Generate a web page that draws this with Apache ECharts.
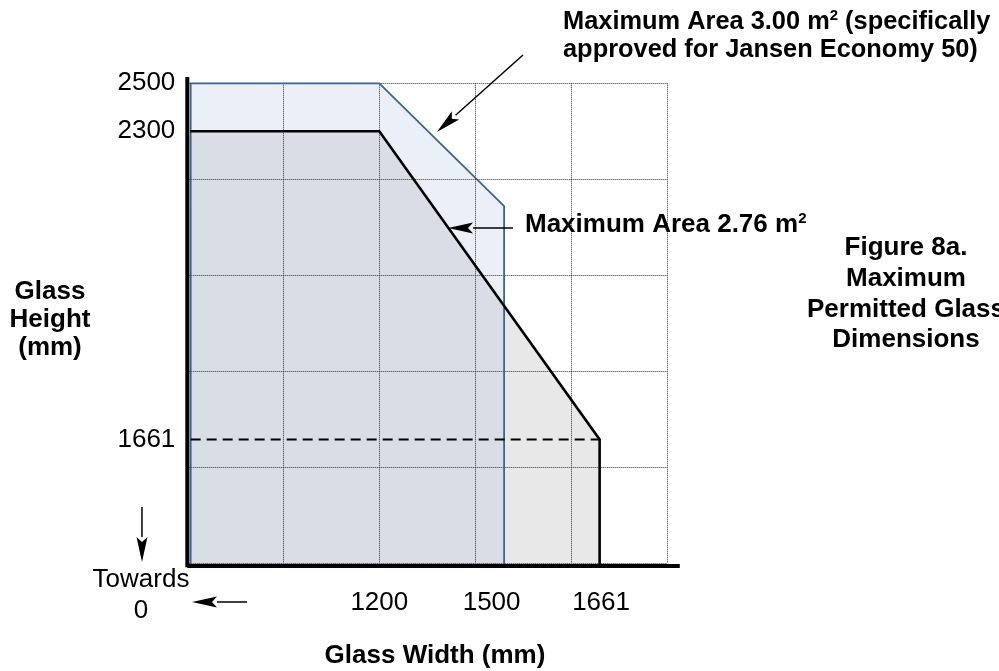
<!DOCTYPE html>
<html>
<head>
<meta charset="utf-8">
<script src="https://cdn.jsdelivr.net/npm/echarts@6/dist/echarts.min.js"></script>
<style>
html,body{margin:0;padding:0;background:#fff;}
#chart{width:999px;height:671px;}
</style>
</head>
<body>
<div id="chart"></div>
<script>
// ---------- data (schematic grid units: one grid cell = 1 unit) ----------
const heightTickLabels = ['2500', '2300', '1661'];
const heightTickPos    = [5.0, 4.5, 1.29];
const widthTickLabels  = ['1200', '1500', '1661'];
const widthTickPos     = [2.0, 3.17, 4.31];

// Max area 2.76 m2 envelope (black outline, grey fill)
const area276     = [[0, 0], [0, 4.5], [2, 4.5], [4.295, 1.29], [4.295, 0]];
const outline276  = [[0.03, 4.5], [2, 4.5], [4.295, 1.29], [4.295, -0.03]];
// Max area 3.00 m2 envelope (blue outline, light blue fill)
const area300     = [[0.035, -0.02], [0.035, 5], [2, 5], [3.3, 3.72], [3.3, -0.02]];
// region common to both envelopes
const overlapArea = [[0.035, -0.02], [0.035, 4.5], [2, 4.5], [3.3, 2.68], [3.3, -0.02]];
// 1661 limit (dashed)
const limit1661   = [[0.035, 1.29], [4.295, 1.29]];
// heavy axis lines
const yAxisLinePts = [[0, -0.04], [0, 5.065]];
const xAxisLinePts = [[0, -0.028], [5.13, -0.028]];
// annotation arrows: [fromX, fromY, toX, toY]
const arrows = [
  [3.497, 5.295, 2.60, 4.493],
  [3.393, 3.493, 2.716, 3.493],
  [-0.472, 0.587, -0.472, 0.014],
  [0.622, -0.403, 0.049, -0.403]
];

const FONT = '"Liberation Sans", Arial, Helvetica, sans-serif';

function lookup(pos, labels) {
  return function (v) {
    const i = pos.findIndex(p => Math.abs(p - v) < 1e-6);
    return i >= 0 ? labels[i] : '';
  };
}

function polygonSeries(pts, style, z) {
  return {
    type: 'custom', coordinateSystem: 'cartesian2d', z: z, silent: true, clip: false,
    data: [[0, 0]],
    renderItem: function (params, api) {
      return { type: 'polygon', shape: { points: pts.map(p => api.coord(p)) }, style: style };
    }
  };
}
function polylineSeries(pts, style, z) {
  return {
    type: 'custom', coordinateSystem: 'cartesian2d', z: z, silent: true, clip: false,
    data: [[0, 0]],
    renderItem: function (params, api) {
      return { type: 'polyline', shape: { points: pts.map(p => api.coord(p)) }, style: Object.assign({ fill: null }, style) };
    }
  };
}

const chart = echarts.init(document.getElementById('chart'), null, { renderer: 'canvas' });

const gridLine = { show: true, lineStyle: { color: '#333', width: 1, type: [1, 1] } };

const option = {
  backgroundColor: '#ffffff',
  animation: false,
  grid: { left: 187.3, top: 83.3, width: 480, height: 480, containLabel: false },
  xAxis: {
    type: 'value', min: 0, max: 5, interval: 1, z: 3,
    axisLine: { show: false }, axisTick: { show: false },
    splitLine: gridLine,
    axisLabel: {
      customValues: widthTickPos, formatter: lookup(widthTickPos, widthTickLabels),
      margin: 27, fontSize: 26, color: '#000', fontFamily: FONT
    }
  },
  yAxis: {
    type: 'value', min: 0, max: 5, interval: 1, z: 3,
    axisLine: { show: false }, axisTick: { show: false },
    splitLine: gridLine,
    axisLabel: {
      customValues: heightTickPos, formatter: lookup(heightTickPos, heightTickLabels),
      margin: 12, fontSize: 26, color: '#000', fontFamily: FONT
    }
  },
  series: [
    polygonSeries(area276, { fill: '#e8e8e8' }, 1),
    polygonSeries(area300, { fill: '#ebf0f8' }, 1),
    polygonSeries(overlapArea, { fill: '#d9dee6' }, 1),
    polygonSeries(area300, { fill: null, stroke: '#3d6394', lineWidth: 1.8 }, 5),
    polylineSeries(outline276, { stroke: '#000', lineWidth: 2.6 }, 6),
    polylineSeries(limit1661, { stroke: '#000', lineWidth: 2, lineDash: [10, 6] }, 6),
    polylineSeries(yAxisLinePts, { stroke: '#000', lineWidth: 4 }, 7),
    polylineSeries(xAxisLinePts, { stroke: '#000', lineWidth: 4 }, 7),
    {
      type: 'custom', coordinateSystem: 'cartesian2d', z: 8, silent: true, clip: false,
      data: arrows,
      renderItem: function (params, api) {
        const p1 = api.coord([api.value(0), api.value(1)]);
        const p2 = api.coord([api.value(2), api.value(3)]);
        const dx = p2[0] - p1[0], dy = p2[1] - p1[1];
        const len = Math.sqrt(dx * dx + dy * dy);
        const ux = dx / len, uy = dy / len;
        const L = 25, W = 5.5;
        const bx = p2[0] - ux * L, by = p2[1] - uy * L;
        const nx = -uy, ny = ux;
        return {
          type: 'group',
          children: [
            { type: 'line', shape: { x1: p1[0], y1: p1[1], x2: bx, y2: by }, style: { stroke: '#000', lineWidth: 1.5 } },
            { type: 'polygon', shape: { points: [[p2[0], p2[1]], [bx + nx * W, by + ny * W], [bx + ux * 5, by + uy * 5], [bx - nx * W, by - ny * W]] }, style: { fill: '#000' } }
          ]
        };
      }
    }
  ],
  graphic: [
    {
      type: 'text', x: 563, y: 36, z: 10, silent: true,
      style: {
        text: 'Maximum Area 3.00 m{sup|2} (specifically\napproved for Jansen Economy 50)',
        font: 'bold 25.4px ' + FONT, fill: '#000', align: 'left', verticalAlign: 'middle', lineHeight: 28,
        rich: { sup: { font: 'bold 15px ' + FONT, fill: '#000', verticalAlign: 'top', lineHeight: 15 } }
      }
    },
    {
      type: 'text', x: 525, y: 225, z: 10, silent: true,
      style: {
        text: 'Maximum Area 2.76 m{sup|2}',
        font: 'bold 26px ' + FONT, fill: '#000', align: 'left', verticalAlign: 'middle', lineHeight: 28,
        rich: { sup: { font: 'bold 15px ' + FONT, fill: '#000', verticalAlign: 'top', lineHeight: 15 } }
      }
    },
    {
      type: 'text', x: 906, y: 294, z: 10, silent: true,
      style: {
        text: 'Figure 8a.\nMaximum\nPermitted Glass\nDimensions',
        font: 'bold 26px ' + FONT, fill: '#000', align: 'center', verticalAlign: 'middle', lineHeight: 30.7
      }
    },
    {
      type: 'text', x: 50, y: 319.5, z: 10, silent: true,
      style: {
        text: 'Glass\nHeight\n(mm)',
        font: 'bold 26px ' + FONT, fill: '#000', align: 'center', verticalAlign: 'middle', lineHeight: 28
      }
    },
    {
      type: 'text', x: 435, y: 656, z: 10, silent: true,
      style: {
        text: 'Glass Width (mm)',
        font: 'bold 26px ' + FONT, fill: '#000', align: 'center', verticalAlign: 'middle'
      }
    },
    {
      type: 'text', x: 141, y: 595.5, z: 10, silent: true,
      style: {
        text: 'Towards\n0',
        font: '26px ' + FONT, fill: '#000', align: 'center', verticalAlign: 'middle', lineHeight: 31
      }
    }
  ]
};

chart.setOption(option);
</script>
</body>
</html>
